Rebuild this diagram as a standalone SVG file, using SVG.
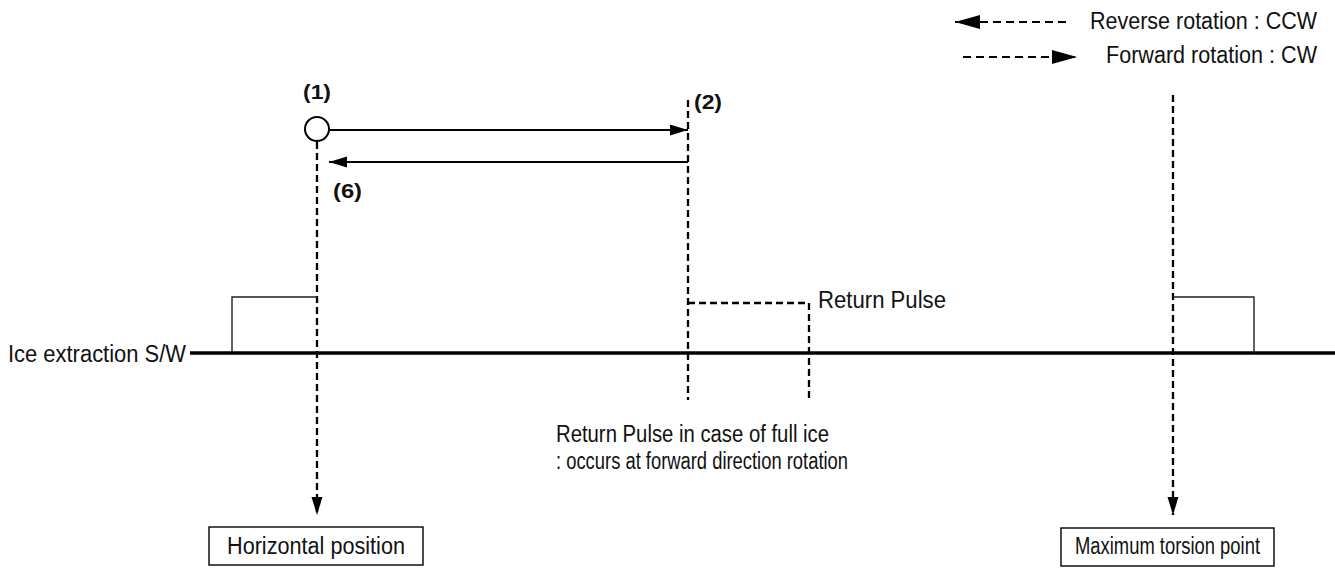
<svg xmlns="http://www.w3.org/2000/svg" width="1335" height="569" viewBox="0 0 1335 569">
<style>
text{font-family:"Liberation Sans",Arial,Helvetica,sans-serif;fill:#111;font-size:23px}
.b{font-weight:bold;font-size:21px}
.solid{stroke:#000;stroke-width:2;fill:none}
.dash{stroke:#000;stroke-width:2.3;fill:none;stroke-dasharray:7 4}
.ldash{stroke:#000;stroke-width:2.2;fill:none;stroke-dasharray:8 5}
.pulse{stroke:#222;stroke-width:1.4;fill:none}
.box{stroke:#000;stroke-width:1.4;fill:#fff}
</style>
<defs>
<marker id="ah" markerUnits="userSpaceOnUse" markerWidth="20" markerHeight="12" refX="18" refY="5.5" orient="auto"><path d="M0,0 L18,5.5 L0,11 Z" fill="#000"/></marker>
<marker id="lah" markerUnits="userSpaceOnUse" markerWidth="26" markerHeight="16" refX="25" refY="7" orient="auto"><path d="M0,0 L25,7 L0,14 Z" fill="#000"/></marker>
</defs>
<g id="legend">
<line class="ldash" x1="1066" y1="22" x2="955" y2="22" marker-end="url(#lah)"/>
<text x="1317" y="29" text-anchor="end" textLength="227" lengthAdjust="spacingAndGlyphs">Reverse rotation : CCW</text>
<line class="ldash" x1="963" y1="57" x2="1077" y2="57" marker-end="url(#lah)"/>
<text x="1317" y="63" text-anchor="end" textLength="211" lengthAdjust="spacingAndGlyphs">Forward rotation : CW</text>
</g>
<g id="connectors">
<line class="solid" x1="329" y1="130" x2="688" y2="130" marker-end="url(#ah)"/>
<line class="solid" x1="688" y1="162" x2="329" y2="162" marker-end="url(#ah)"/>
<line class="dash" x1="317" y1="142" x2="317" y2="515" marker-end="url(#ah)"/>
<line class="dash" x1="688" y1="100" x2="688" y2="400"/>
<line class="dash" x1="1173" y1="95" x2="1173" y2="515" marker-end="url(#ah)"/>
</g>
<g id="signal">
<line x1="190" y1="353" x2="1335" y2="353" stroke="#000" stroke-width="3.6"/>
<polyline class="pulse" points="232,353 232,297 317,297"/>
<polyline class="pulse" points="1173,297 1254,297 1254,353"/>
<polyline class="dash" stroke-width="1.8" points="688,303 809,303 809,400"/>
<text x="8" y="362" textLength="178" lengthAdjust="spacingAndGlyphs">Ice extraction S/W</text>
<text x="818" y="308" textLength="128" lengthAdjust="spacingAndGlyphs">Return Pulse</text>
<text x="556" y="442" textLength="273" lengthAdjust="spacingAndGlyphs">Return Pulse in case of full ice</text>
<text x="556" y="469" textLength="292" lengthAdjust="spacingAndGlyphs">: occurs at forward direction rotation</text>
</g>
<g id="p1">
<circle cx="317" cy="129" r="12" fill="#fff" stroke="#000" stroke-width="2"/>
<text class="b" x="303" y="99" textLength="28" lengthAdjust="spacingAndGlyphs">(1)</text>
</g>
<g id="p2"><text class="b" x="694" y="109" textLength="28" lengthAdjust="spacingAndGlyphs">(2)</text></g>
<g id="p6"><text class="b" x="333" y="198" textLength="29" lengthAdjust="spacingAndGlyphs">(6)</text></g>
<g id="horizontal">
<rect class="box" x="209" y="527" width="214" height="38"/>
<text x="316" y="554" text-anchor="middle" textLength="178" lengthAdjust="spacingAndGlyphs">Horizontal position</text>
</g>
<g id="torsion">
<rect class="box" x="1061" y="528" width="213" height="38"/>
<text x="1167.5" y="554" text-anchor="middle" font-size="21" textLength="185" lengthAdjust="spacingAndGlyphs">Maximum torsion point</text>
</g>
</svg>
